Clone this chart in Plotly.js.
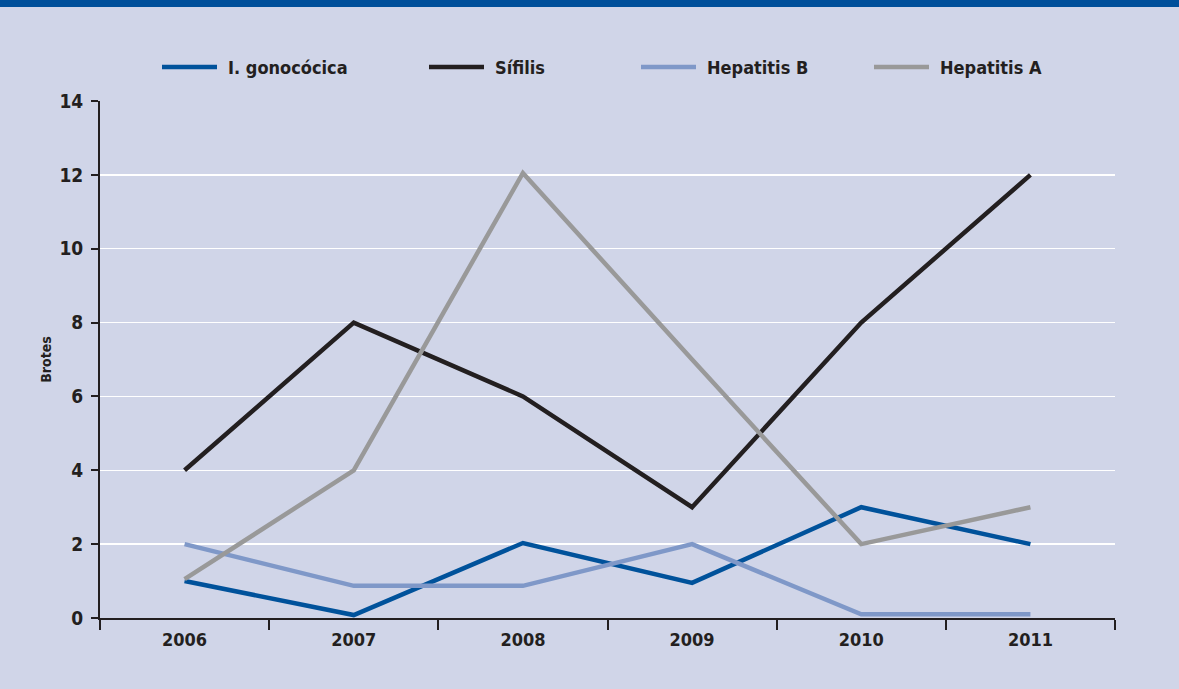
<!DOCTYPE html>
<html>
<head>
<meta charset="utf-8">
<script src="https://cdn.plot.ly/plotly-3.0.1.min.js"></script>
<style>
html,body{margin:0;padding:0;background:#d0d5e8;}
#chart{width:1179px;height:689px;}
</style>
</head>
<body>
<div id="chart"></div>
<script>
const years = ["2006", "2007", "2008", "2009", "2010", "2011"];
const gonococica = [1, 0.08, 2.03, 0.95, 3, 2];
const sifilis = [4, 8, 6, 3, 8, 12];
const hepatitisB = [2, 0.87, 0.87, 2, 0.1, 0.1];
const hepatitisA = [1.05, 4, 12.05, 7, 2, 3];
const seriesNames = ["I. gonocócica", "Sífilis", "Hepatitis B", "Hepatitis A"];
const yTicks = [0, 2, 4, 6, 8, 10, 12, 14];

const FONT = '"DejaVu Sans Condensed", "DejaVu Sans", sans-serif';
const TXT = '#231f20';
const colors = ['#00529b', '#231f20', '#7f98c8', '#999999'];
const dataSets = [gonococica, sifilis, hepatitisB, hepatitisA];

// plot area geometry in pixels (for legend placement in paper coords)
const L = 100, T = 101, PW = 1015, PH = 517;
const px2x = p => (p - L) / PW;
const py2y = p => (T + PH - p) / PH;
const legendLineStart = [162, 429, 641, 874];
const legendLineLen = 55;
const legendTextGap = 9;
const legendY = 67;

const traces = dataSets.map((d, i) => ({
  type: 'scatter', mode: 'lines', x: years, y: d, name: seriesNames[i],
  line: {color: colors[i], width: 4.5},
  hoverinfo: 'skip', showlegend: false
}));

const shapes = [{type: 'rect', xref: 'paper', yref: 'paper', x0: -0.2, x1: 1.2,
  y0: py2y(7), y1: py2y(-10), fillcolor: '#004f9a', line: {width: 0}}];
const annotations = [];
seriesNames.forEach((n, i) => {
  shapes.push({type: 'line', xref: 'paper', yref: 'paper',
    x0: px2x(legendLineStart[i]), x1: px2x(legendLineStart[i] + legendLineLen),
    y0: py2y(legendY), y1: py2y(legendY),
    line: {color: colors[i], width: 4.5}});
  annotations.push({xref: 'paper', yref: 'paper',
    x: px2x(legendLineStart[i] + legendLineLen + legendTextGap), y: py2y(legendY),
    xanchor: 'left', yanchor: 'middle', showarrow: false, text: n,
    font: {family: FONT, size: 18, color: TXT, weight: 'bold'}});
});

const layout = {
  width: 1179, height: 689,
  paper_bgcolor: '#d0d5e8', plot_bgcolor: '#d0d5e8',
  margin: {l: L, r: 64, t: T, b: 71},
  font: {family: FONT, color: TXT, size: 18, weight: 'bold'},
  xaxis: {
    type: 'category', range: [-0.5, 5.5], tickson: 'boundaries',
    ticks: 'outside', ticklen: 10, tickwidth: 2, tickcolor: TXT,
    showline: true, linecolor: TXT, linewidth: 2, showgrid: false,
    ticklabelstandoff: 4,
    tickfont: {family: FONT, size: 18, color: TXT, weight: 'bold'},
    fixedrange: true
  },
  yaxis: {
    range: [0, 14], tickvals: yTicks, ticktext: yTicks.map(String),
    ticks: 'outside', ticklen: 7, tickwidth: 2, tickcolor: TXT,
    showline: true, linecolor: TXT, linewidth: 2,
    showgrid: true, gridcolor: '#ffffff', gridwidth: 1.3, zeroline: false,
    ticklabelstandoff: 4,
    tickfont: {family: FONT, size: 19, color: TXT, weight: 'bold'},
    title: {text: 'Brotes', font: {family: FONT, size: 14, color: TXT, weight: 'bold'}, standoff: 5},
    fixedrange: true
  },
  showlegend: false,
  shapes: shapes,
  annotations: annotations,
  hovermode: false
};

Plotly.newPlot('chart', traces, layout, {displayModeBar: false, staticPlot: true});
</script>
</body>
</html>
